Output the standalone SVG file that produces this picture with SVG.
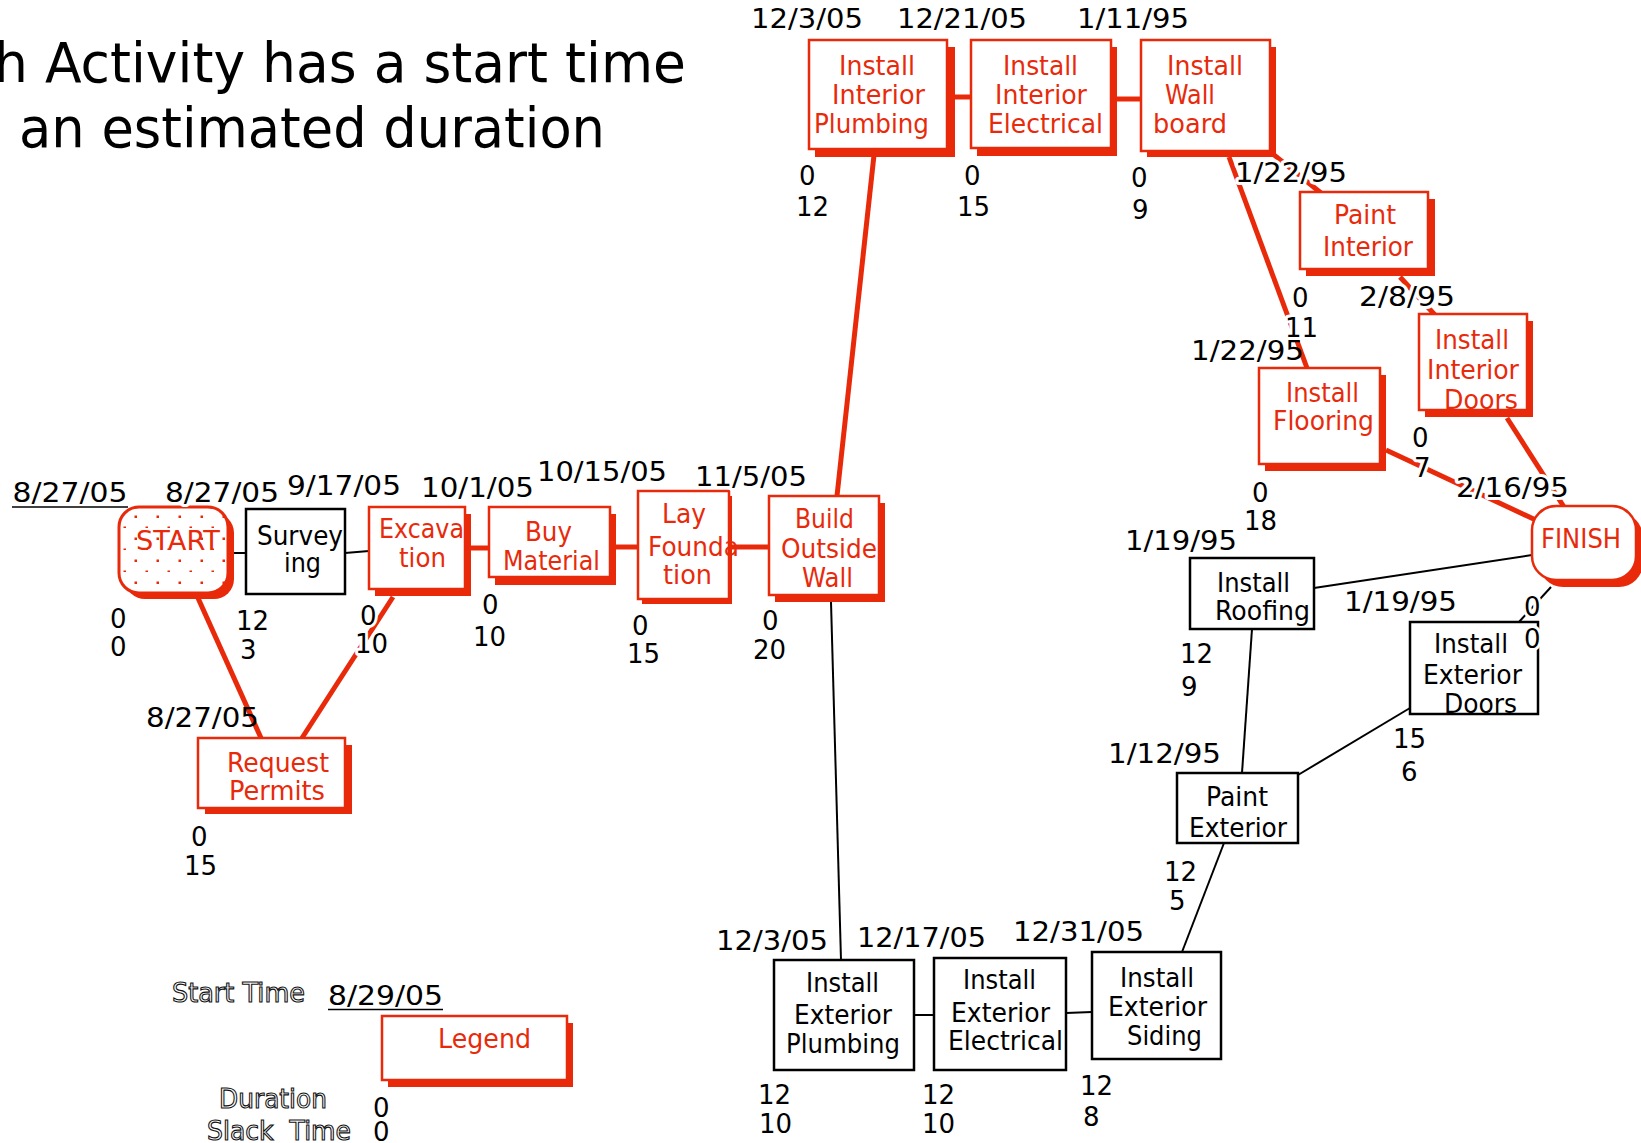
<svg xmlns="http://www.w3.org/2000/svg" width="1641" height="1143" viewBox="0 0 1641 1143">
<style>
text{font-family:"DejaVu Sans","Liberation Sans",sans-serif;font-size:26px}
.title{font-size:55px;fill:#000}
.r{fill:#fff;stroke:#E82A0B;stroke-width:2.5}
.dot{fill:url(#dots);stroke:#E82A0B;stroke-width:3}
.b{fill:#fff;stroke:#000;stroke-width:2.5}
.sh{fill:#E82A0B}
.rt{fill:#E82A0B}
.bt{fill:#000}
.lbl{fill:#000;stroke:#fff;stroke-width:6;stroke-linejoin:round;paint-order:stroke}
.rc{stroke:#E82A0B;stroke-width:5;fill:none}
.bc{stroke:#000;stroke-width:2;fill:none}
.ol{fill:#fff;stroke:#111;stroke-width:1.1}
.ul{stroke:#000;stroke-width:1.5}
</style>
<defs>
<pattern id="dots" patternUnits="userSpaceOnUse" x="0" y="0" width="22" height="22">
<rect x="0" y="0" width="22" height="22" fill="#fff"/>
<rect x="2.5" y="9.5" width="2.5" height="2.5" fill="#E82A0B"/>
<rect x="13.5" y="20.5" width="2.5" height="2.5" fill="#E82A0B"/>
</pattern>
</defs>
<rect width="1641" height="1143" fill="#fff"/>

<g id="title">
<text class="title" x="-6" y="82" textLength="692" lengthAdjust="spacingAndGlyphs">h Activity has a start time</text>
<text class="title" x="19" y="147" textLength="586" lengthAdjust="spacingAndGlyphs">an estimated duration</text>
</g>

<g id="connectors">
<line class="rc" x1="198" y1="598" x2="261" y2="738"/>
<line class="rc" x1="393" y1="597" x2="302" y2="738"/>
<line class="rc" x1="471" y1="548" x2="489" y2="548"/>
<line class="rc" x1="616" y1="547" x2="638" y2="547"/>
<line class="rc" x1="732" y1="547" x2="769" y2="547"/>
<line class="rc" x1="837" y1="496" x2="874" y2="155"/>
<line class="rc" x1="955" y1="97" x2="971" y2="97"/>
<line class="rc" x1="1117" y1="99" x2="1141" y2="99"/>
<line class="rc" x1="1268" y1="150" x2="1321" y2="193"/>
<line class="rc" x1="1229" y1="157" x2="1307" y2="368"/>
<line class="rc" x1="1400" y1="277" x2="1435" y2="315"/>
<line class="rc" x1="1386" y1="450" x2="1540" y2="522"/>
<line class="rc" x1="1507" y1="418" x2="1566" y2="510"/>
<line class="bc" x1="234" y1="553" x2="246" y2="553"/>
<line class="bc" x1="345" y1="553" x2="369" y2="551"/>
<line class="bc" x1="831" y1="602" x2="841" y2="960"/>
<line class="bc" x1="914" y1="1015" x2="934" y2="1015"/>
<line class="bc" x1="1066" y1="1013" x2="1092" y2="1012"/>
<line class="bc" x1="1182" y1="952" x2="1224" y2="843"/>
<line class="bc" x1="1242" y1="773" x2="1252" y2="629"/>
<line class="bc" x1="1298" y1="775" x2="1410" y2="708"/>
<line class="bc" x1="1314" y1="588" x2="1532" y2="555"/>
<line class="bc" x1="1519" y1="622" x2="1551" y2="587"/>
</g>

<g id="start">
<rect class="sh" x="125" y="513" width="109" height="86" rx="20"/>
<rect class="dot" x="119" y="507" width="109" height="86" rx="20"/>
<text class="rt" x="136" y="550" textLength="84" lengthAdjust="spacingAndGlyphs">START</text>
</g>

<g id="surveying">
<rect class="b" x="246" y="509" width="99" height="85"/>
<text class="bt" x="257" y="545" textLength="86" lengthAdjust="spacingAndGlyphs">Survey</text>
<text class="bt" x="284" y="572" textLength="37" lengthAdjust="spacingAndGlyphs">ing</text>
</g>

<g id="excavation">
<rect class="sh" x="375" y="514" width="96" height="82"/>
<rect class="r" x="369" y="507" width="96" height="82"/>
<text class="rt" x="379" y="538" textLength="85" lengthAdjust="spacingAndGlyphs">Excava</text>
<text class="rt" x="399" y="567" textLength="47" lengthAdjust="spacingAndGlyphs">tion</text>
</g>

<g id="buy-material">
<rect class="sh" x="495" y="514" width="121" height="71"/>
<rect class="r" x="489" y="507" width="121" height="70"/>
<text class="rt" x="525" y="541" textLength="47" lengthAdjust="spacingAndGlyphs">Buy</text>
<text class="rt" x="503" y="570" textLength="97" lengthAdjust="spacingAndGlyphs">Material</text>
</g>

<g id="lay-foundation">
<rect class="sh" x="642" y="496" width="90" height="108"/>
<rect class="r" x="638" y="491" width="91" height="108"/>
<text class="rt" x="662" y="523" textLength="44" lengthAdjust="spacingAndGlyphs">Lay</text>
<text class="rt" x="648" y="556" textLength="91" lengthAdjust="spacingAndGlyphs">Founda</text>
<text class="rt" x="663" y="584" textLength="49" lengthAdjust="spacingAndGlyphs">tion</text>
</g>

<g id="build-outside-wall">
<rect class="sh" x="775" y="503" width="110" height="99"/>
<rect class="r" x="769" y="496" width="110" height="99"/>
<text class="rt" x="795" y="528" textLength="59" lengthAdjust="spacingAndGlyphs">Build</text>
<text class="rt" x="781" y="558" textLength="96" lengthAdjust="spacingAndGlyphs">Outside</text>
<text class="rt" x="802" y="587" textLength="51" lengthAdjust="spacingAndGlyphs">Wall</text>
</g>

<g id="request-permits">
<rect class="sh" x="205" y="745" width="147" height="69"/>
<rect class="r" x="198" y="738" width="147" height="70"/>
<text class="rt" x="227" y="772" textLength="102" lengthAdjust="spacingAndGlyphs">Request</text>
<text class="rt" x="229" y="800" textLength="96" lengthAdjust="spacingAndGlyphs">Permits</text>
</g>

<g id="install-interior-plumbing">
<rect class="sh" x="815" y="47" width="140" height="110"/>
<rect class="r" x="809" y="40" width="138" height="109"/>
<text class="rt" x="839" y="75" textLength="76" lengthAdjust="spacingAndGlyphs">Install</text>
<text class="rt" x="832" y="104" textLength="93" lengthAdjust="spacingAndGlyphs">Interior</text>
<text class="rt" x="814" y="133" textLength="115" lengthAdjust="spacingAndGlyphs">Plumbing</text>
</g>

<g id="install-interior-electrical">
<rect class="sh" x="977" y="47" width="140" height="109"/>
<rect class="r" x="971" y="40" width="140" height="108"/>
<text class="rt" x="1003" y="75" textLength="75" lengthAdjust="spacingAndGlyphs">Install</text>
<text class="rt" x="995" y="104" textLength="92" lengthAdjust="spacingAndGlyphs">Interior</text>
<text class="rt" x="988" y="133" textLength="115" lengthAdjust="spacingAndGlyphs">Electrical</text>
</g>

<g id="install-wall-board">
<rect class="sh" x="1147" y="47" width="129" height="110"/>
<rect class="r" x="1141" y="40" width="129" height="111"/>
<text class="rt" x="1167" y="75" textLength="76" lengthAdjust="spacingAndGlyphs">Install</text>
<text class="rt" x="1165" y="104" textLength="50" lengthAdjust="spacingAndGlyphs">Wall</text>
<text class="rt" x="1153" y="133" textLength="74" lengthAdjust="spacingAndGlyphs">board</text>
</g>

<g id="paint-interior">
<rect class="sh" x="1306" y="199" width="129" height="77"/>
<rect class="r" x="1300" y="192" width="128" height="77"/>
<text class="rt" x="1334" y="224" textLength="62" lengthAdjust="spacingAndGlyphs">Paint</text>
<text class="rt" x="1323" y="256" textLength="90" lengthAdjust="spacingAndGlyphs">Interior</text>
</g>

<g id="install-interior-doors">
<rect class="sh" x="1425" y="321" width="108" height="96"/>
<rect class="r" x="1419" y="314" width="108" height="96"/>
<text class="rt" x="1435" y="349" textLength="74" lengthAdjust="spacingAndGlyphs">Install</text>
<text class="rt" x="1427" y="379" textLength="92" lengthAdjust="spacingAndGlyphs">Interior</text>
<text class="rt" x="1444" y="409" textLength="74" lengthAdjust="spacingAndGlyphs">Doors</text>
</g>

<g id="install-flooring">
<rect class="sh" x="1265" y="375" width="121" height="96"/>
<rect class="r" x="1259" y="368" width="121" height="96"/>
<text class="rt" x="1286" y="402" textLength="73" lengthAdjust="spacingAndGlyphs">Install</text>
<text class="rt" x="1273" y="430" textLength="101" lengthAdjust="spacingAndGlyphs">Flooring</text>
</g>

<g id="finish">
<rect class="sh" x="1539" y="513" width="104" height="74" rx="24"/>
<rect class="r" x="1532" y="506" width="104" height="74" rx="24" stroke-width="3"/>
<text class="rt" x="1541" y="548" textLength="80" lengthAdjust="spacingAndGlyphs">FINISH</text>
</g>

<g id="install-roofing">
<rect class="b" x="1190" y="558" width="124" height="71"/>
<text class="bt" x="1217" y="592" textLength="73" lengthAdjust="spacingAndGlyphs">Install</text>
<text class="bt" x="1215" y="620" textLength="95" lengthAdjust="spacingAndGlyphs">Roofing</text>
</g>

<g id="install-exterior-doors">
<rect class="b" x="1410" y="622" width="128" height="92"/>
<text class="bt" x="1434" y="653" textLength="74" lengthAdjust="spacingAndGlyphs">Install</text>
<text class="bt" x="1423" y="684" textLength="99" lengthAdjust="spacingAndGlyphs">Exterior</text>
<text class="bt" x="1444" y="713" textLength="73" lengthAdjust="spacingAndGlyphs">Doors</text>
</g>

<g id="paint-exterior">
<rect class="b" x="1177" y="773" width="121" height="70"/>
<text class="bt" x="1206" y="806" textLength="62" lengthAdjust="spacingAndGlyphs">Paint</text>
<text class="bt" x="1189" y="837" textLength="98" lengthAdjust="spacingAndGlyphs">Exterior</text>
</g>

<g id="install-exterior-plumbing">
<rect class="b" x="774" y="960" width="140" height="110"/>
<text class="bt" x="806" y="992" textLength="73" lengthAdjust="spacingAndGlyphs">Install</text>
<text class="bt" x="794" y="1024" textLength="98" lengthAdjust="spacingAndGlyphs">Exterior</text>
<text class="bt" x="786" y="1053" textLength="114" lengthAdjust="spacingAndGlyphs">Plumbing</text>
</g>

<g id="install-exterior-electrical">
<rect class="b" x="934" y="958" width="132" height="112"/>
<text class="bt" x="963" y="989" textLength="73" lengthAdjust="spacingAndGlyphs">Install</text>
<text class="bt" x="951" y="1022" textLength="99" lengthAdjust="spacingAndGlyphs">Exterior</text>
<text class="bt" x="948" y="1050" textLength="115" lengthAdjust="spacingAndGlyphs">Electrical</text>
</g>

<g id="install-exterior-siding">
<rect class="b" x="1092" y="952" width="129" height="107"/>
<text class="bt" x="1120" y="987" textLength="74" lengthAdjust="spacingAndGlyphs">Install</text>
<text class="bt" x="1108" y="1016" textLength="99" lengthAdjust="spacingAndGlyphs">Exterior</text>
<text class="bt" x="1127" y="1045" textLength="75" lengthAdjust="spacingAndGlyphs">Siding</text>
</g>

<g id="legend">
<rect class="sh" x="388" y="1023" width="185" height="64"/>
<rect class="r" x="382" y="1016" width="185" height="64"/>
<text class="rt" x="438" y="1048" textLength="93" lengthAdjust="spacingAndGlyphs">Legend</text>
<text class="ol" x="172" y="1002" textLength="133" lengthAdjust="spacingAndGlyphs">Start Time</text>
<text class="ol" x="219" y="1108" textLength="108" lengthAdjust="spacingAndGlyphs">Duration</text>
<text class="ol" x="207" y="1140" textLength="144" lengthAdjust="spacingAndGlyphs" xml:space="preserve">Slack  Time</text>
<text class="bt" x="328" y="1005" textLength="115" lengthAdjust="spacingAndGlyphs">8/29/05</text>
<line class="ul" x1="328" y1="1009.5" x2="443" y2="1009.5"/>
<text class="bt" x="373" y="1117" font-size="25">0</text>
<text class="bt" x="373" y="1141" font-size="25">0</text>
</g>

<g id="labels">
<text class="bt" x="12.5" y="502" textLength="115" lengthAdjust="spacingAndGlyphs">8/27/05</text>
<line class="ul" x1="12" y1="507" x2="128" y2="507"/>
<text class="lbl" x="165" y="502" textLength="114" lengthAdjust="spacingAndGlyphs">8/27/05</text>
<text class="lbl" x="287" y="495" textLength="114" lengthAdjust="spacingAndGlyphs">9/17/05</text>
<text class="lbl" x="421" y="497" textLength="113" lengthAdjust="spacingAndGlyphs">10/1/05</text>
<text class="lbl" x="537" y="481" textLength="130" lengthAdjust="spacingAndGlyphs">10/15/05</text>
<text class="lbl" x="695" y="486" textLength="112" lengthAdjust="spacingAndGlyphs">11/5/05</text>
<text class="bt" x="146" y="727" textLength="113" lengthAdjust="spacingAndGlyphs">8/27/05</text>
<text class="lbl" x="751" y="28" textLength="112" lengthAdjust="spacingAndGlyphs">12/3/05</text>
<text class="lbl" x="897" y="28" textLength="130" lengthAdjust="spacingAndGlyphs">12/21/05</text>
<text class="lbl" x="1077" y="28" textLength="112" lengthAdjust="spacingAndGlyphs">1/11/95</text>
<text class="lbl" x="1235" y="182" textLength="112" lengthAdjust="spacingAndGlyphs">1/22/95</text>
<text class="lbl" x="1359" y="306" textLength="96" lengthAdjust="spacingAndGlyphs">2/8/95</text>
<text class="bt" x="1191" y="360" textLength="113" lengthAdjust="spacingAndGlyphs">1/22/95</text>
<text class="lbl" x="1456" y="497" textLength="113" lengthAdjust="spacingAndGlyphs">2/16/95</text>
<text class="lbl" x="1125" y="550" textLength="112" lengthAdjust="spacingAndGlyphs">1/19/95</text>
<text class="lbl" x="1344" y="611" textLength="113" lengthAdjust="spacingAndGlyphs">1/19/95</text>
<text class="lbl" x="1108" y="763" textLength="113" lengthAdjust="spacingAndGlyphs">1/12/95</text>
<text class="lbl" x="716" y="950" textLength="112" lengthAdjust="spacingAndGlyphs">12/3/05</text>
<text class="lbl" x="857" y="947" textLength="129" lengthAdjust="spacingAndGlyphs">12/17/05</text>
<text class="lbl" x="1013" y="941" textLength="131" lengthAdjust="spacingAndGlyphs">12/31/05</text>

<text class="lbl" x="110" y="628">0</text><text class="lbl" x="110" y="656">0</text>
<text class="lbl" x="236" y="630">12</text><text class="lbl" x="240" y="659">3</text>
<text class="lbl" x="360" y="625">0</text><text class="lbl" x="355" y="653">10</text>
<text class="lbl" x="482" y="614">0</text><text class="lbl" x="473" y="646">10</text>
<text class="lbl" x="632" y="635">0</text><text class="lbl" x="627" y="663">15</text>
<text class="lbl" x="762" y="630">0</text><text class="lbl" x="753" y="659">20</text>
<text class="lbl" x="191" y="846">0</text><text class="lbl" x="184" y="875">15</text>
<text class="lbl" x="799" y="185">0</text><text class="lbl" x="796" y="216">12</text>
<text class="lbl" x="964" y="185">0</text><text class="lbl" x="957" y="216">15</text>
<text class="lbl" x="1131" y="187">0</text><text class="lbl" x="1132" y="219">9</text>
<text class="lbl" x="1292" y="307">0</text><text class="lbl" x="1285" y="337">11</text>
<text class="lbl" x="1412" y="447">0</text><text class="lbl" x="1414" y="477">7</text>
<text class="lbl" x="1252" y="502">0</text><text class="lbl" x="1244" y="530">18</text>
<text class="lbl" x="1524" y="616">0</text><text class="lbl" x="1524" y="648">0</text>
<text class="lbl" x="1180" y="663">12</text><text class="lbl" x="1181" y="696">9</text>
<text class="lbl" x="1393" y="748">15</text><text class="lbl" x="1401" y="781">6</text>
<text class="lbl" x="1164" y="881">12</text><text class="lbl" x="1169" y="910">5</text>
<text class="lbl" x="758" y="1104">12</text><text class="lbl" x="759" y="1133">10</text>
<text class="lbl" x="922" y="1104">12</text><text class="lbl" x="922" y="1133">10</text>
<text class="lbl" x="1080" y="1095">12</text><text class="lbl" x="1083" y="1126">8</text>
</g>
</svg>
